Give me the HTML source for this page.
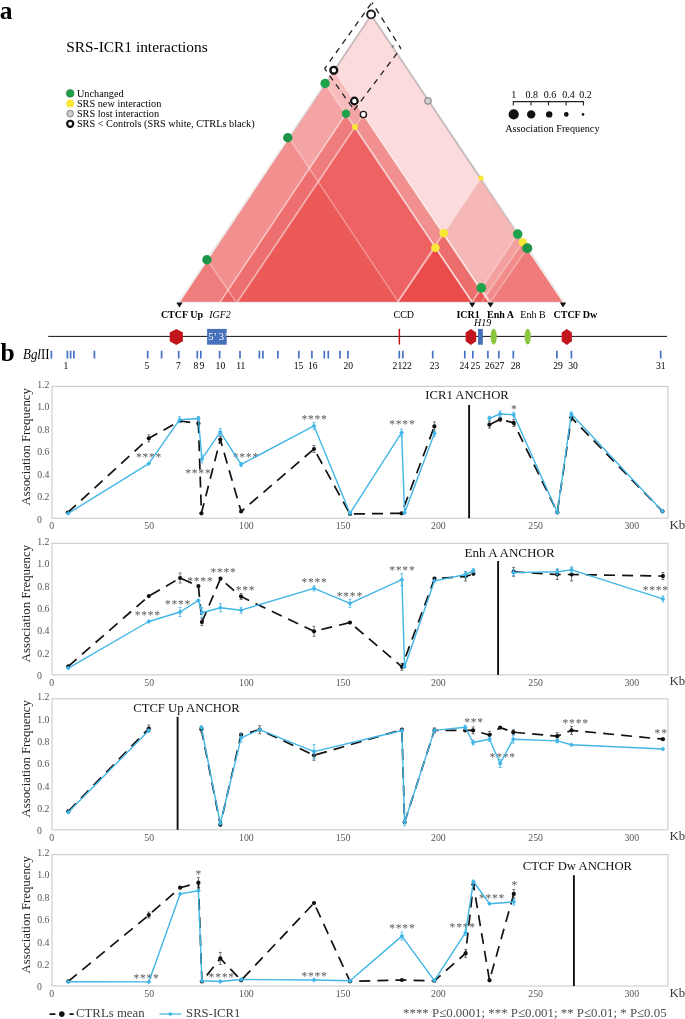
<!DOCTYPE html>
<html><head><meta charset="utf-8"><title>Figure</title>
<style>
html,body{margin:0;padding:0;background:#fff;}
body{width:685px;height:1019px;overflow:hidden;}
svg{display:block;will-change:transform;}
svg text{font-family:"Liberation Serif",serif;}
</style></head><body>
<svg width="685" height="1019" viewBox="0 0 685 1019">
<rect width="685" height="1019" fill="#fff"/>
<g id="tri">
<path d="M179.5,301.6 L371.25,15 L563,301.6" fill="none" stroke="#adadad" stroke-width="1.7"/>
<path d="M179,302.3 H563.5" fill="none" stroke="#ececec" stroke-width="1.2"/>
<path d="M179.5,301.7 L371.25,15.0 L563.0,301.7 Z" fill="rgb(230,44,40)" fill-opacity="0.17"/>
<path d="M179.5,301.7 L333.8,70.3 L488.8,301.7 Z" fill="rgb(230,44,40)" fill-opacity="0.17"/>
<path d="M179.5,301.7 L325.1,83.5 L471.8,301.7 Z" fill="rgb(230,44,40)" fill-opacity="0.17"/>
<path d="M220.4,301.7 L354.4,101.0 L488.8,301.7 Z" fill="rgb(230,44,40)" fill-opacity="0.17"/>
<path d="M220.4,301.7 L346.0,113.8 L471.8,301.7 Z" fill="rgb(230,44,40)" fill-opacity="0.17"/>
<path d="M237.6,301.7 L363.4,114.5 L488.8,301.7 Z" fill="rgb(230,44,40)" fill-opacity="0.17"/>
<path d="M237.6,301.7 L355.0,127.0 L471.8,301.7 Z" fill="rgb(230,44,40)" fill-opacity="0.17"/>
<path d="M179.5,301.7 L288.7,137.5 L398.0,301.7 Z" fill="rgb(230,44,40)" fill-opacity="0.17"/>
<path d="M179.5,301.7 L207.0,259.8 L236.0,301.7 Z" fill="rgb(230,44,40)" fill-opacity="0.17"/>
<path d="M398.0,301.7 L480.7,178.0 L563.0,301.7 Z" fill="rgb(230,44,40)" fill-opacity="0.2"/>
<path d="M398.0,301.7 L443.5,233.1 L488.8,301.7 Z" fill="rgb(230,44,40)" fill-opacity="0.15"/>
<path d="M398.0,301.7 L435.3,247.6 L471.8,301.7 Z" fill="rgb(230,44,40)" fill-opacity="0.1"/>
<path d="M472.6,301.7 L517.7,234.1 L563.0,301.7 Z" fill="rgb(230,44,40)" fill-opacity="0.17"/>
<path d="M482.0,301.7 L522.8,242.3 L563.0,301.7 Z" fill="rgb(230,44,40)" fill-opacity="0.17"/>
<path d="M490.7,301.7 L527.3,248.2 L563.0,301.7 Z" fill="rgb(230,44,40)" fill-opacity="0.17"/>
<path d="M472.4,301.7 L481.3,287.9 L490.3,301.7 Z" fill="rgb(230,44,40)" fill-opacity="0.17"/>
<path d="M179.5,301.7 L371.25,15.0 L563.0,301.7" fill="none" stroke="#fff" stroke-opacity="0.32" stroke-width="1.5" stroke-linejoin="round"/>
<path d="M179.5,301.7 L333.8,70.3 L488.8,301.7" fill="none" stroke="#fff" stroke-opacity="0.32" stroke-width="1.5" stroke-linejoin="round"/>
<path d="M179.5,301.7 L325.1,83.5 L471.8,301.7" fill="none" stroke="#fff" stroke-opacity="0.32" stroke-width="1.5" stroke-linejoin="round"/>
<path d="M220.4,301.7 L354.4,101.0 L488.8,301.7" fill="none" stroke="#fff" stroke-opacity="0.32" stroke-width="1.5" stroke-linejoin="round"/>
<path d="M220.4,301.7 L346.0,113.8 L471.8,301.7" fill="none" stroke="#fff" stroke-opacity="0.32" stroke-width="1.5" stroke-linejoin="round"/>
<path d="M237.6,301.7 L363.4,114.5 L488.8,301.7" fill="none" stroke="#fff" stroke-opacity="0.32" stroke-width="1.5" stroke-linejoin="round"/>
<path d="M237.6,301.7 L355.0,127.0 L471.8,301.7" fill="none" stroke="#fff" stroke-opacity="0.32" stroke-width="1.5" stroke-linejoin="round"/>
<path d="M179.5,301.7 L288.7,137.5 L398.0,301.7" fill="none" stroke="#fff" stroke-opacity="0.32" stroke-width="1.5" stroke-linejoin="round"/>
<path d="M179.5,301.7 L207.0,259.8 L236.0,301.7" fill="none" stroke="#fff" stroke-opacity="0.32" stroke-width="1.5" stroke-linejoin="round"/>
<path d="M398.0,301.7 L480.7,178.0 L563.0,301.7" fill="none" stroke="#fff" stroke-opacity="0.32" stroke-width="1.5" stroke-linejoin="round"/>
<path d="M398.0,301.7 L443.5,233.1 L488.8,301.7" fill="none" stroke="#fff" stroke-opacity="0.32" stroke-width="1.5" stroke-linejoin="round"/>
<path d="M398.0,301.7 L435.3,247.6 L471.8,301.7" fill="none" stroke="#fff" stroke-opacity="0.32" stroke-width="1.5" stroke-linejoin="round"/>
<path d="M472.6,301.7 L517.7,234.1 L563.0,301.7" fill="none" stroke="#fff" stroke-opacity="0.32" stroke-width="1.5" stroke-linejoin="round"/>
<path d="M482.0,301.7 L522.8,242.3 L563.0,301.7" fill="none" stroke="#fff" stroke-opacity="0.32" stroke-width="1.5" stroke-linejoin="round"/>
<path d="M490.7,301.7 L527.3,248.2 L563.0,301.7" fill="none" stroke="#fff" stroke-opacity="0.32" stroke-width="1.5" stroke-linejoin="round"/>
<path d="M472.4,301.7 L481.3,287.9 L490.3,301.7" fill="none" stroke="#fff" stroke-opacity="0.32" stroke-width="1.5" stroke-linejoin="round"/>
</g>
<path d="M324.6,68.6 L372,2.5 M400.8,48.3 L372,2.5 M324.6,68.6 L354.2,110" fill="none" stroke="#222" stroke-width="1.3" stroke-dasharray="5.8 5.1" stroke-dashoffset="2.3"/>
<path d="M354.2,110 L400.8,48.3" fill="none" stroke="#222" stroke-width="1.3" stroke-dasharray="5.8 5.1"/>
<circle cx="428" cy="100.9" r="3.4" fill="#cfcfcf" stroke="#555" stroke-width="0.7"/>
<circle cx="392.8" cy="46.4" r="1.0" fill="#aaa" stroke="#666" stroke-width="0.6"/>
<circle cx="355" cy="127" r="2.9" fill="#f8e733"/>
<circle cx="481" cy="178" r="2.6" fill="#f8e733"/>
<circle cx="443.7" cy="233.1" r="4.4" fill="#f8e733"/>
<circle cx="435.4" cy="247.8" r="4.3" fill="#f8e733"/>
<circle cx="522.8" cy="242.3" r="4.0" fill="#f8e733"/>
<circle cx="325.1" cy="83.5" r="4.7" fill="#1fa24c"/>
<circle cx="346" cy="113.8" r="4.2" fill="#1fa24c"/>
<circle cx="287.8" cy="137.7" r="4.7" fill="#1e9447"/>
<circle cx="206.9" cy="259.8" r="4.7" fill="#1e9447"/>
<circle cx="517.7" cy="234.1" r="4.8" fill="#1fa24c"/>
<circle cx="527.3" cy="248.2" r="5.0" fill="#1e9447"/>
<circle cx="481.3" cy="287.9" r="4.8" fill="#1fa24c"/>
<circle cx="371.1" cy="14.4" r="3.95" fill="#fff" stroke="#1a1a1a" stroke-width="1.9"/>
<circle cx="333.8" cy="70.3" r="3.4" fill="#fff" stroke="#111" stroke-width="2.4"/>
<circle cx="354.4" cy="101" r="3.3" fill="#fff" stroke="#111" stroke-width="2.2"/>
<circle cx="363.4" cy="114.5" r="3.1" fill="#fff" stroke="#1a1a1a" stroke-width="1.4"/>
<text x="66.2" y="51.9" font-size="15.4">SRS-ICR1 interactions</text>
<circle cx="70.2" cy="93.4" r="3.8" fill="#1fa24c" stroke="#2f7f45" stroke-width="0.8"/>
<circle cx="70.2" cy="103.4" r="3.9" fill="#f8e733"/>
<circle cx="70.2" cy="113.6" r="3.3" fill="#cfcfcf" stroke="#555" stroke-width="0.7"/>
<circle cx="70.2" cy="123.8" r="3.05" fill="#fff" stroke="#111" stroke-width="2.2"/>
<text x="76.9" y="96.6" font-size="10.27">Unchanged</text>
<text x="76.9" y="106.7" font-size="10.27">SRS new interaction</text>
<text x="76.9" y="116.8" font-size="10.27">SRS lost interaction</text>
<text x="76.9" y="126.9" font-size="10.27">SRS &lt; Controls (SRS white, CTRLs black)</text>
<text x="513.7" y="98" font-size="10" text-anchor="middle">1</text>
<text x="531.7" y="98" font-size="10" text-anchor="middle">0.8</text>
<text x="549.9" y="98" font-size="10" text-anchor="middle">0.6</text>
<text x="568.5" y="98" font-size="10" text-anchor="middle">0.4</text>
<text x="585.6" y="98" font-size="10" text-anchor="middle">0.2</text>
<path d="M513.3,105.6 V101.6 H583.4 V105.6 M531,101.6 V105.6 M548.5,101.6 V105.6 M566.1,101.6 V105.6" fill="none" stroke="#222" stroke-width="1.1"/>
<circle cx="513.7" cy="114.4" r="5.1" fill="#111"/>
<circle cx="531.2" cy="114.4" r="4.2" fill="#111"/>
<circle cx="549.2" cy="114.4" r="3.2" fill="#111"/>
<circle cx="566.3" cy="114.4" r="2.3" fill="#111"/>
<circle cx="583" cy="114.4" r="1.3" fill="#111"/>
<text x="505.2" y="131.5" font-size="10.28">Association Frequency</text>
<text x="-0.3" y="18.6" font-size="25.5" font-weight="bold">a</text>
<text x="0.4" y="360.5" font-size="25.5" font-weight="bold">b</text>
<path d="M176.3,302.6 H182.7 L179.5,307.6 Z" fill="#111"/>
<path d="M469.0,302.6 H475.4 L472.2,307.6 Z" fill="#111"/>
<path d="M487.3,302.6 H493.7 L490.5,307.6 Z" fill="#111"/>
<path d="M559.8,302.6 H566.2 L563,307.6 Z" fill="#111"/>
<text x="160.9" y="317.8" font-size="10" font-weight="bold">CTCF Up</text>
<text x="209.2" y="317.8" font-size="10" font-style="italic">IGF2</text>
<text x="393.5" y="317.8" font-size="10">CCD</text>
<text x="456.4" y="317.8" font-size="10" font-weight="bold">ICR1</text>
<text x="487" y="317.8" font-size="10" font-weight="bold">Enh A</text>
<text x="520.3" y="317.8" font-size="10">Enh B</text>
<text x="553.5" y="317.8" font-size="10" font-weight="bold">CTCF Dw</text>
<text x="474" y="325.8" font-size="10" font-style="italic">H19</text>
<path d="M48.2,336.4 H667" stroke="#111" stroke-width="1.0" fill="none"/>
<path d="M176.3,328.9 L182.9,332.4 V341.2 L176.3,345 L169.70000000000002,341.2 V332.4 Z" fill="#c1161c"/>
<path d="M470.9,328.9 L476.2,332.4 V341.2 L470.9,345 L465.59999999999997,341.2 V332.4 Z" fill="#c1161c"/>
<path d="M566.8,328.9 L571.9,332.4 V341.2 L566.8,345 L561.6999999999999,341.2 V332.4 Z" fill="#c1161c"/>
<rect x="207.1" y="328.9" width="19.6" height="15.8" fill="#4670b9"/>
<text x="208.2" y="340.2" font-size="10.6" fill="#fff">5&#8217; 3&#8217;</text>
<rect x="398.6" y="328.8" width="1.5" height="15.8" fill="#c1161c"/>
<rect x="478" y="328.9" width="4.8" height="15.8" fill="#4670b9"/>
<ellipse cx="493.7" cy="336.7" rx="3.1" ry="7.9" fill="#8cc63f"/>
<ellipse cx="527.7" cy="336.7" rx="3.1" ry="7.9" fill="#8cc63f"/>
<text x="23" y="359.4" font-size="13.6" textLength="26.6" lengthAdjust="spacingAndGlyphs"><tspan font-style="italic">Bgl</tspan>II</text>
<path d="M51.4,350.7 V358.6 M67.4,350.7 V358.6 M70.6,350.7 V358.6 M73.9,350.7 V358.6 M94.4,350.7 V358.6 M147.7,350.7 V358.6 M161.6,350.7 V358.6 M178.7,350.7 V358.6 M197.3,350.7 V358.6 M200.8,350.7 V358.6 M219.6,350.7 V358.6 M240,350.7 V358.6 M259.4,350.7 V358.6 M262.9,350.7 V358.6 M277.9,350.7 V358.6 M298.8,350.7 V358.6 M311.9,350.7 V358.6 M324.3,350.7 V358.6 M328.3,350.7 V358.6 M340,350.7 V358.6 M347.9,350.7 V358.6 M399.3,350.7 V358.6 M402.8,350.7 V358.6 M432.7,350.7 V358.6 M464.8,350.7 V358.6 M472.8,350.7 V358.6 M487.9,350.7 V358.6 M498.8,350.7 V358.6 M513.3,350.7 V358.6 M556.9,350.7 V358.6 M571.4,350.7 V358.6 M660.7,350.7 V358.6 " stroke="#4472c4" stroke-width="1.7" fill="none"/>
<text x="65.8" y="368.6" font-size="9.6" text-anchor="middle">1</text>
<text x="147" y="368.6" font-size="9.6" text-anchor="middle">5</text>
<text x="178.4" y="368.6" font-size="9.6" text-anchor="middle">7</text>
<text x="195.9" y="368.6" font-size="9.6" text-anchor="middle">8</text>
<text x="202" y="368.6" font-size="9.6" text-anchor="middle">9</text>
<text x="220.4" y="368.6" font-size="9.6" text-anchor="middle">10</text>
<text x="240.8" y="368.6" font-size="9.6" text-anchor="middle">11</text>
<text x="298.6" y="368.6" font-size="9.6" text-anchor="middle">15</text>
<text x="312.8" y="368.6" font-size="9.6" text-anchor="middle">16</text>
<text x="348.3" y="368.6" font-size="9.6" text-anchor="middle">20</text>
<text x="397.4" y="368.6" font-size="9.6" text-anchor="middle">21</text>
<text x="407" y="368.6" font-size="9.6" text-anchor="middle">22</text>
<text x="434.6" y="368.6" font-size="9.6" text-anchor="middle">23</text>
<text x="464.2" y="368.6" font-size="9.6" text-anchor="middle">24</text>
<text x="475.4" y="368.6" font-size="9.6" text-anchor="middle">25</text>
<text x="489.8" y="368.6" font-size="9.6" text-anchor="middle">26</text>
<text x="499.5" y="368.6" font-size="9.6" text-anchor="middle">27</text>
<text x="515.5" y="368.6" font-size="9.6" text-anchor="middle">28</text>
<text x="558" y="368.6" font-size="9.6" text-anchor="middle">29</text>
<text x="573" y="368.6" font-size="9.6" text-anchor="middle">30</text>
<text x="660.7" y="368.6" font-size="9.6" text-anchor="middle">31</text>
<g id="chart0">
<rect x="52.0" y="386.4" width="615.9" height="131.8" fill="#fff" stroke="#cacaca" stroke-width="1.1"/>
<text x="42.0" y="522.5" font-size="9.8" text-anchor="end" fill="#555">0</text>
<text x="49.4" y="500.1" font-size="9.8" text-anchor="end" fill="#555">0.2</text>
<text x="49.4" y="477.6" font-size="9.8" text-anchor="end" fill="#555">0.4</text>
<text x="49.4" y="455.2" font-size="9.8" text-anchor="end" fill="#555">0.6</text>
<text x="49.4" y="432.7" font-size="9.8" text-anchor="end" fill="#555">0.8</text>
<text x="49.4" y="410.2" font-size="9.8" text-anchor="end" fill="#555">1.0</text>
<text x="49.4" y="387.8" font-size="9.8" text-anchor="end" fill="#555">1.2</text>
<text x="51.8" y="529.0" font-size="9.8" text-anchor="middle" fill="#555">0</text>
<text x="149.2" y="529.0" font-size="9.8" text-anchor="middle" fill="#555">50</text>
<text x="246.4" y="529.0" font-size="9.8" text-anchor="middle" fill="#555">100</text>
<text x="343" y="529.0" font-size="9.8" text-anchor="middle" fill="#555">150</text>
<text x="438.4" y="529.0" font-size="9.8" text-anchor="middle" fill="#555">200</text>
<text x="535.6" y="529.0" font-size="9.8" text-anchor="middle" fill="#555">250</text>
<text x="631.8" y="529.0" font-size="9.8" text-anchor="middle" fill="#555">300</text>
<text x="669.4" y="528.7" font-size="12.8" fill="#3a3a3a">Kb</text>
<text transform="translate(30.2,446.8) rotate(-90)" font-size="12.75" text-anchor="middle" fill="#222">Association Frequency</text>
<text x="425.3" y="398.8" font-size="12.7" fill="#111">ICR1 ANCHOR</text>
<path d="M469.1,405 V518.2" stroke="#111" stroke-width="1.9" fill="none"/>
<text x="135.97" y="461.2" font-size="11.6" fill="#5a5a5a" letter-spacing="0.75">****</text>
<text x="185.28" y="476.6" font-size="11.6" fill="#5a5a5a" letter-spacing="0.75">****</text>
<text x="232.78" y="461.2" font-size="11.6" fill="#5a5a5a" letter-spacing="0.75">****</text>
<text x="301.38" y="422.7" font-size="11.6" fill="#5a5a5a" letter-spacing="0.75">****</text>
<text x="389.28" y="428.2" font-size="11.6" fill="#5a5a5a" letter-spacing="0.75">****</text>
<text x="511.10" y="413.0" font-size="11.6" fill="#5a5a5a" letter-spacing="0.75">*</text>
<path d="M67.8,512.5 L148.8,438.3 L180.1,421 L198.4,423.4 L201.4,513.3 L220.3,439.6 L241.1,511.5 L314,449 L350,514 L401.6,513.3 L434.4,426.4" fill="none" stroke="#111" stroke-width="1.7" stroke-dasharray="11 7.1" stroke-linejoin="round"/>
<path d="M489.4,424.7 L500.1,419.3 L513.7,422.9 L557.3,512.3 L571.3,417.6 L662.5,511.3" fill="none" stroke="#111" stroke-width="1.7" stroke-dasharray="11 7.1" stroke-linejoin="round"/>
<path d="M148.8,434.8 V441.8 M147.3,434.8 H150.3 M147.3,441.8 H150.3 M198.4,420.9 V425.9 M196.9,420.9 H199.9 M196.9,425.9 H199.9 M220.3,436.6 V442.6 M218.8,436.6 H221.8 M218.8,442.6 H221.8 M314,445.5 V452.5 M312.5,445.5 H315.5 M312.5,452.5 H315.5 M434.4,421.9 V430.9 M432.9,421.9 H435.9 M432.9,430.9 H435.9 M489.4,421.2 V428.2 M487.9,421.2 H490.9 M487.9,428.2 H490.9 M500.1,417.3 V421.3 M498.6,417.3 H501.6 M498.6,421.3 H501.6 M513.7,419.4 V426.4 M512.2,419.4 H515.2 M512.2,426.4 H515.2 M571.3,415.1 V420.1 M569.8,415.1 H572.8 M569.8,420.1 H572.8 " fill="none" stroke="#222" stroke-width="0.6"/>
<circle cx="67.8" cy="512.5" r="2.1" fill="#111"/>
<circle cx="148.8" cy="438.3" r="2.1" fill="#111"/>
<circle cx="180.1" cy="421" r="2.1" fill="#111"/>
<circle cx="198.4" cy="423.4" r="2.1" fill="#111"/>
<circle cx="201.4" cy="513.3" r="2.1" fill="#111"/>
<circle cx="220.3" cy="439.6" r="2.1" fill="#111"/>
<circle cx="241.1" cy="511.5" r="2.1" fill="#111"/>
<circle cx="314" cy="449" r="2.1" fill="#111"/>
<circle cx="350" cy="514" r="2.1" fill="#111"/>
<circle cx="401.6" cy="513.3" r="2.1" fill="#111"/>
<circle cx="434.4" cy="426.4" r="2.1" fill="#111"/>
<circle cx="489.4" cy="424.7" r="2.1" fill="#111"/>
<circle cx="500.1" cy="419.3" r="2.1" fill="#111"/>
<circle cx="513.7" cy="422.9" r="2.1" fill="#111"/>
<circle cx="557.3" cy="512.3" r="2.1" fill="#111"/>
<circle cx="571.3" cy="417.6" r="2.1" fill="#111"/>
<circle cx="662.5" cy="511.3" r="2.1" fill="#111"/>
<path d="M68.3,513.3 L148.8,463.6 L179.6,419.7 L198.4,418.5 L201.9,458.9 L220.3,432.1 L241.1,464.4 L314,425.9 L350,513.3 L401.6,432.6 L404.6,512.8 L434.4,433.4" fill="none" stroke="#41b6e6" stroke-width="1.4" stroke-linejoin="round"/>
<path d="M489.4,418.3 L500.1,414 L513.7,414.7 L557.3,512.3 L571.3,414 L662.5,511.3" fill="none" stroke="#41b6e6" stroke-width="1.4" stroke-linejoin="round"/>
<path d="M179.6,416.7 V422.7 M178.1,416.7 H181.1 M178.1,422.7 H181.1 M198.4,416.5 V420.5 M196.9,416.5 H199.9 M196.9,420.5 H199.9 M201.9,454.9 V462.9 M200.4,454.9 H203.4 M200.4,462.9 H203.4 M220.3,428.6 V435.6 M218.8,428.6 H221.8 M218.8,435.6 H221.8 M241.1,462.4 V466.4 M239.6,462.4 H242.6 M239.6,466.4 H242.6 M314,422.4 V429.4 M312.5,422.4 H315.5 M312.5,429.4 H315.5 M401.6,429.1 V436.1 M400.1,429.1 H403.1 M400.1,436.1 H403.1 M434.4,430.4 V436.4 M432.9,430.4 H435.9 M432.9,436.4 H435.9 M489.4,416.3 V420.3 M487.9,416.3 H490.9 M487.9,420.3 H490.9 M500.1,411 V417 M498.6,411 H501.6 M498.6,417 H501.6 M513.7,412.2 V417.2 M512.2,412.2 H515.2 M512.2,417.2 H515.2 M571.3,412 V416 M569.8,412 H572.8 M569.8,416 H572.8 " fill="none" stroke="#41b6e6" stroke-width="0.8"/>
<path d="M65.89999999999999,513.3 L68.3,510.9 L70.7,513.3 L68.3,515.6999999999999 Z" fill="#41b6e6"/>
<path d="M146.4,463.6 L148.8,461.20000000000005 L151.20000000000002,463.6 L148.8,466.0 Z" fill="#41b6e6"/>
<path d="M177.2,419.7 L179.6,417.3 L182.0,419.7 L179.6,422.09999999999997 Z" fill="#41b6e6"/>
<path d="M196.0,418.5 L198.4,416.1 L200.8,418.5 L198.4,420.9 Z" fill="#41b6e6"/>
<path d="M199.5,458.9 L201.9,456.5 L204.3,458.9 L201.9,461.29999999999995 Z" fill="#41b6e6"/>
<path d="M217.9,432.1 L220.3,429.70000000000005 L222.70000000000002,432.1 L220.3,434.5 Z" fill="#41b6e6"/>
<path d="M238.7,464.4 L241.1,462.0 L243.5,464.4 L241.1,466.79999999999995 Z" fill="#41b6e6"/>
<path d="M311.6,425.9 L314,423.5 L316.4,425.9 L314,428.29999999999995 Z" fill="#41b6e6"/>
<path d="M347.6,513.3 L350,510.9 L352.4,513.3 L350,515.6999999999999 Z" fill="#41b6e6"/>
<path d="M399.20000000000005,432.6 L401.6,430.20000000000005 L404.0,432.6 L401.6,435.0 Z" fill="#41b6e6"/>
<path d="M402.20000000000005,512.8 L404.6,510.4 L407.0,512.8 L404.6,515.1999999999999 Z" fill="#41b6e6"/>
<path d="M432.0,433.4 L434.4,431.0 L436.79999999999995,433.4 L434.4,435.79999999999995 Z" fill="#41b6e6"/>
<path d="M487.0,418.3 L489.4,415.90000000000003 L491.79999999999995,418.3 L489.4,420.7 Z" fill="#41b6e6"/>
<path d="M497.70000000000005,414 L500.1,411.6 L502.5,414 L500.1,416.4 Z" fill="#41b6e6"/>
<path d="M511.30000000000007,414.7 L513.7,412.3 L516.1,414.7 L513.7,417.09999999999997 Z" fill="#41b6e6"/>
<path d="M554.9,512.3 L557.3,509.9 L559.6999999999999,512.3 L557.3,514.6999999999999 Z" fill="#41b6e6"/>
<path d="M568.9,414 L571.3,411.6 L573.6999999999999,414 L571.3,416.4 Z" fill="#41b6e6"/>
<path d="M660.1,511.3 L662.5,508.90000000000003 L664.9,511.3 L662.5,513.7 Z" fill="#41b6e6"/>
</g>
<g id="chart1">
<rect x="52.0" y="543.3" width="615.9" height="131.6" fill="#fff" stroke="#cacaca" stroke-width="1.1"/>
<text x="42.0" y="679.2" font-size="9.8" text-anchor="end" fill="#555">0</text>
<text x="49.4" y="656.8" font-size="9.8" text-anchor="end" fill="#555">0.2</text>
<text x="49.4" y="634.4" font-size="9.8" text-anchor="end" fill="#555">0.4</text>
<text x="49.4" y="611.9" font-size="9.8" text-anchor="end" fill="#555">0.6</text>
<text x="49.4" y="589.5" font-size="9.8" text-anchor="end" fill="#555">0.8</text>
<text x="49.4" y="567.1" font-size="9.8" text-anchor="end" fill="#555">1.0</text>
<text x="49.4" y="544.7" font-size="9.8" text-anchor="end" fill="#555">1.2</text>
<text x="51.8" y="685.7" font-size="9.8" text-anchor="middle" fill="#555">0</text>
<text x="149.2" y="685.7" font-size="9.8" text-anchor="middle" fill="#555">50</text>
<text x="246.4" y="685.7" font-size="9.8" text-anchor="middle" fill="#555">100</text>
<text x="343" y="685.7" font-size="9.8" text-anchor="middle" fill="#555">150</text>
<text x="438.4" y="685.7" font-size="9.8" text-anchor="middle" fill="#555">200</text>
<text x="535.6" y="685.7" font-size="9.8" text-anchor="middle" fill="#555">250</text>
<text x="631.8" y="685.7" font-size="9.8" text-anchor="middle" fill="#555">300</text>
<text x="669.4" y="685.4" font-size="12.8" fill="#3a3a3a">Kb</text>
<text transform="translate(30.2,603.6) rotate(-90)" font-size="12.75" text-anchor="middle" fill="#222">Association Frequency</text>
<text x="464.5" y="557" font-size="13.1" fill="#111">Enh A ANCHOR</text>
<path d="M498.1,561 V674.9" stroke="#111" stroke-width="1.9" fill="none"/>
<text x="134.68" y="618.9" font-size="11.6" fill="#5a5a5a" letter-spacing="0.75">****</text>
<text x="164.97" y="607.5" font-size="11.6" fill="#5a5a5a" letter-spacing="0.75">****</text>
<text x="187.28" y="584.7" font-size="11.6" fill="#5a5a5a" letter-spacing="0.75">****</text>
<text x="210.38" y="576.0" font-size="11.6" fill="#5a5a5a" letter-spacing="0.75">****</text>
<text x="235.65" y="593.9" font-size="11.6" fill="#5a5a5a" letter-spacing="0.75">***</text>
<text x="301.38" y="585.9" font-size="11.6" fill="#5a5a5a" letter-spacing="0.75">****</text>
<text x="336.78" y="599.6" font-size="11.6" fill="#5a5a5a" letter-spacing="0.75">****</text>
<text x="389.28" y="574.3" font-size="11.6" fill="#5a5a5a" letter-spacing="0.75">****</text>
<text x="642.67" y="594.0" font-size="11.6" fill="#5a5a5a" letter-spacing="0.75">****</text>
<path d="M68.3,666.3 L148.8,596.1 L180.1,578 L198.4,586.1 L201.9,622.1 L220.5,578.7 L241.1,596.6 L314,631.3 L350,622.6 L401.9,666.8 L434.5,578.7 L465.6,576.5 L473.4,573.8" fill="none" stroke="#111" stroke-width="1.7" stroke-dasharray="11 7.1" stroke-linejoin="round"/>
<path d="M513.6,571.8 L557.3,574.5 L571.6,574.5 L662.9,576.1" fill="none" stroke="#111" stroke-width="1.7" stroke-dasharray="11 7.1" stroke-linejoin="round"/>
<path d="M180.1,573 V583 M178.6,573 H181.6 M178.6,583 H181.6 M201.9,618.6 V625.6 M200.4,618.6 H203.4 M200.4,625.6 H203.4 M241.1,593.6 V599.6 M239.6,593.6 H242.6 M239.6,599.6 H242.6 M314,626.3 V636.3 M312.5,626.3 H315.5 M312.5,636.3 H315.5 M401.9,663.3 V670.3 M400.4,663.3 H403.4 M400.4,670.3 H403.4 M465.6,572.0 V581.0 M464.1,572.0 H467.1 M464.1,581.0 H467.1 M513.6,567.3 V576.3 M512.1,567.3 H515.1 M512.1,576.3 H515.1 M557.3,569.5 V579.5 M555.8,569.5 H558.8 M555.8,579.5 H558.8 M571.6,568.0 V581.0 M570.1,568.0 H573.1 M570.1,581.0 H573.1 M662.9,572.6 V579.6 M661.4,572.6 H664.4 M661.4,579.6 H664.4 " fill="none" stroke="#222" stroke-width="0.6"/>
<circle cx="68.3" cy="666.3" r="2.1" fill="#111"/>
<circle cx="148.8" cy="596.1" r="2.1" fill="#111"/>
<circle cx="180.1" cy="578" r="2.1" fill="#111"/>
<circle cx="198.4" cy="586.1" r="2.1" fill="#111"/>
<circle cx="201.9" cy="622.1" r="2.1" fill="#111"/>
<circle cx="220.5" cy="578.7" r="2.1" fill="#111"/>
<circle cx="241.1" cy="596.6" r="2.1" fill="#111"/>
<circle cx="314" cy="631.3" r="2.1" fill="#111"/>
<circle cx="350" cy="622.6" r="2.1" fill="#111"/>
<circle cx="401.9" cy="666.8" r="2.1" fill="#111"/>
<circle cx="434.5" cy="578.7" r="2.1" fill="#111"/>
<circle cx="465.6" cy="576.5" r="2.1" fill="#111"/>
<circle cx="473.4" cy="573.8" r="2.1" fill="#111"/>
<circle cx="513.6" cy="571.8" r="2.1" fill="#111"/>
<circle cx="557.3" cy="574.5" r="2.1" fill="#111"/>
<circle cx="571.6" cy="574.5" r="2.1" fill="#111"/>
<circle cx="662.9" cy="576.1" r="2.1" fill="#111"/>
<path d="M68.3,668.1 L148.8,621.5 L180.1,612 L198.4,600.3 L201.9,612.7 L220.5,607.7 L241.1,610.2 L314,588.4 L350,603.3 L401.9,579.7 L404.6,666.8 L434.5,580.9 L465.6,574.5 L473.4,570.7" fill="none" stroke="#41b6e6" stroke-width="1.4" stroke-linejoin="round"/>
<path d="M513.6,572.6 L557.3,571.8 L571.6,569.9 L662.9,598.9" fill="none" stroke="#41b6e6" stroke-width="1.4" stroke-linejoin="round"/>
<path d="M180.1,607.5 V616.5 M178.6,607.5 H181.6 M178.6,616.5 H181.6 M201.9,607.7 V617.7 M200.4,607.7 H203.4 M200.4,617.7 H203.4 M220.5,603.7 V611.7 M219.0,603.7 H222.0 M219.0,611.7 H222.0 M241.1,607.2 V613.2 M239.6,607.2 H242.6 M239.6,613.2 H242.6 M314,585.9 V590.9 M312.5,585.9 H315.5 M312.5,590.9 H315.5 M350,599.3 V607.3 M348.5,599.3 H351.5 M348.5,607.3 H351.5 M401.9,573.7 V585.7 M400.4,573.7 H403.4 M400.4,585.7 H403.4 M465.6,571.5 V577.5 M464.1,571.5 H467.1 M464.1,577.5 H467.1 M473.4,568.7 V572.7 M471.9,568.7 H474.9 M471.9,572.7 H474.9 M513.6,569.6 V575.6 M512.1,569.6 H515.1 M512.1,575.6 H515.1 M557.3,568.8 V574.8 M555.8,568.8 H558.8 M555.8,574.8 H558.8 M571.6,566.9 V572.9 M570.1,566.9 H573.1 M570.1,572.9 H573.1 M662.9,595.9 V601.9 M661.4,595.9 H664.4 M661.4,601.9 H664.4 " fill="none" stroke="#41b6e6" stroke-width="0.8"/>
<path d="M65.89999999999999,668.1 L68.3,665.7 L70.7,668.1 L68.3,670.5 Z" fill="#41b6e6"/>
<path d="M146.4,621.5 L148.8,619.1 L151.20000000000002,621.5 L148.8,623.9 Z" fill="#41b6e6"/>
<path d="M177.7,612 L180.1,609.6 L182.5,612 L180.1,614.4 Z" fill="#41b6e6"/>
<path d="M196.0,600.3 L198.4,597.9 L200.8,600.3 L198.4,602.6999999999999 Z" fill="#41b6e6"/>
<path d="M199.5,612.7 L201.9,610.3000000000001 L204.3,612.7 L201.9,615.1 Z" fill="#41b6e6"/>
<path d="M218.1,607.7 L220.5,605.3000000000001 L222.9,607.7 L220.5,610.1 Z" fill="#41b6e6"/>
<path d="M238.7,610.2 L241.1,607.8000000000001 L243.5,610.2 L241.1,612.6 Z" fill="#41b6e6"/>
<path d="M311.6,588.4 L314,586.0 L316.4,588.4 L314,590.8 Z" fill="#41b6e6"/>
<path d="M347.6,603.3 L350,600.9 L352.4,603.3 L350,605.6999999999999 Z" fill="#41b6e6"/>
<path d="M399.5,579.7 L401.9,577.3000000000001 L404.29999999999995,579.7 L401.9,582.1 Z" fill="#41b6e6"/>
<path d="M402.20000000000005,666.8 L404.6,664.4 L407.0,666.8 L404.6,669.1999999999999 Z" fill="#41b6e6"/>
<path d="M432.1,580.9 L434.5,578.5 L436.9,580.9 L434.5,583.3 Z" fill="#41b6e6"/>
<path d="M463.20000000000005,574.5 L465.6,572.1 L468.0,574.5 L465.6,576.9 Z" fill="#41b6e6"/>
<path d="M471.0,570.7 L473.4,568.3000000000001 L475.79999999999995,570.7 L473.4,573.1 Z" fill="#41b6e6"/>
<path d="M511.20000000000005,572.6 L513.6,570.2 L516.0,572.6 L513.6,575.0 Z" fill="#41b6e6"/>
<path d="M554.9,571.8 L557.3,569.4 L559.6999999999999,571.8 L557.3,574.1999999999999 Z" fill="#41b6e6"/>
<path d="M569.2,569.9 L571.6,567.5 L574.0,569.9 L571.6,572.3 Z" fill="#41b6e6"/>
<path d="M660.5,598.9 L662.9,596.5 L665.3,598.9 L662.9,601.3 Z" fill="#41b6e6"/>
</g>
<g id="chart2">
<rect x="52.0" y="698.8" width="615.9" height="131.0" fill="#fff" stroke="#cacaca" stroke-width="1.1"/>
<text x="42.0" y="834.1" font-size="9.8" text-anchor="end" fill="#555">0</text>
<text x="49.4" y="811.8" font-size="9.8" text-anchor="end" fill="#555">0.2</text>
<text x="49.4" y="789.5" font-size="9.8" text-anchor="end" fill="#555">0.4</text>
<text x="49.4" y="767.1" font-size="9.8" text-anchor="end" fill="#555">0.6</text>
<text x="49.4" y="744.8" font-size="9.8" text-anchor="end" fill="#555">0.8</text>
<text x="49.4" y="722.5" font-size="9.8" text-anchor="end" fill="#555">1.0</text>
<text x="49.4" y="700.2" font-size="9.8" text-anchor="end" fill="#555">1.2</text>
<text x="51.8" y="840.6" font-size="9.8" text-anchor="middle" fill="#555">0</text>
<text x="149.2" y="840.6" font-size="9.8" text-anchor="middle" fill="#555">50</text>
<text x="246.4" y="840.6" font-size="9.8" text-anchor="middle" fill="#555">100</text>
<text x="343" y="840.6" font-size="9.8" text-anchor="middle" fill="#555">150</text>
<text x="438.4" y="840.6" font-size="9.8" text-anchor="middle" fill="#555">200</text>
<text x="535.6" y="840.6" font-size="9.8" text-anchor="middle" fill="#555">250</text>
<text x="631.8" y="840.6" font-size="9.8" text-anchor="middle" fill="#555">300</text>
<text x="669.4" y="840.3" font-size="12.8" fill="#3a3a3a">Kb</text>
<text transform="translate(30.2,758.8) rotate(-90)" font-size="12.75" text-anchor="middle" fill="#222">Association Frequency</text>
<text x="133.2" y="711.9" font-size="12.7" fill="#111">CTCF Up ANCHOR</text>
<path d="M177.6,716.8 V829.8" stroke="#111" stroke-width="1.9" fill="none"/>
<text x="464.25" y="726.1" font-size="11.6" fill="#5a5a5a" letter-spacing="0.75">***</text>
<text x="489.58" y="760.9" font-size="11.6" fill="#5a5a5a" letter-spacing="0.75">****</text>
<text x="562.57" y="727.3" font-size="11.6" fill="#5a5a5a" letter-spacing="0.75">****</text>
<text x="654.62" y="737.0" font-size="11.6" fill="#5a5a5a" letter-spacing="0.75">**</text>
<path d="M68.3,811.3 L148.8,728.5" fill="none" stroke="#111" stroke-width="1.7" stroke-dasharray="11 7.1" stroke-linejoin="round"/>
<path d="M201.4,729.2 L220.3,824.8 L241.1,734.7 L259.7,729.7 L314,755.3 L401.9,729.7 L404.6,822.3 L434.4,730.4 L465.2,730.4 L473.1,730.4 L489.5,735 L500.2,727.6 L513.3,732.2 L557.2,736.2 L571.5,730.4 L662.9,739.2" fill="none" stroke="#111" stroke-width="1.7" stroke-dasharray="11 7.1" stroke-linejoin="round"/>
<path d="M148.8,725.0 V732.0 M147.3,725.0 H150.3 M147.3,732.0 H150.3 M201.4,726.2 V732.2 M199.9,726.2 H202.9 M199.9,732.2 H202.9 M259.7,725.7 V733.7 M258.2,725.7 H261.2 M258.2,733.7 H261.2 M314,750.3 V760.3 M312.5,750.3 H315.5 M312.5,760.3 H315.5 M434.4,727.9 V732.9 M432.9,727.9 H435.9 M432.9,732.9 H435.9 M473.1,726.9 V733.9 M471.6,726.9 H474.6 M471.6,733.9 H474.6 M489.5,731.5 V738.5 M488.0,731.5 H491.0 M488.0,738.5 H491.0 M513.3,729.7 V734.7 M511.79999999999995,729.7 H514.8 M511.79999999999995,734.7 H514.8 M557.2,732.7 V739.7 M555.7,732.7 H558.7 M555.7,739.7 H558.7 M571.5,726.4 V734.4 M570.0,726.4 H573.0 M570.0,734.4 H573.0 " fill="none" stroke="#222" stroke-width="0.6"/>
<circle cx="68.3" cy="811.3" r="2.1" fill="#111"/>
<circle cx="148.8" cy="728.5" r="2.1" fill="#111"/>
<circle cx="201.4" cy="729.2" r="2.1" fill="#111"/>
<circle cx="220.3" cy="824.8" r="2.1" fill="#111"/>
<circle cx="241.1" cy="734.7" r="2.1" fill="#111"/>
<circle cx="259.7" cy="729.7" r="2.1" fill="#111"/>
<circle cx="314" cy="755.3" r="2.1" fill="#111"/>
<circle cx="401.9" cy="729.7" r="2.1" fill="#111"/>
<circle cx="404.6" cy="822.3" r="2.1" fill="#111"/>
<circle cx="434.4" cy="730.4" r="2.1" fill="#111"/>
<circle cx="465.2" cy="730.4" r="2.1" fill="#111"/>
<circle cx="473.1" cy="730.4" r="2.1" fill="#111"/>
<circle cx="489.5" cy="735" r="2.1" fill="#111"/>
<circle cx="500.2" cy="727.6" r="2.1" fill="#111"/>
<circle cx="513.3" cy="732.2" r="2.1" fill="#111"/>
<circle cx="557.2" cy="736.2" r="2.1" fill="#111"/>
<circle cx="571.5" cy="730.4" r="2.1" fill="#111"/>
<circle cx="662.9" cy="739.2" r="2.1" fill="#111"/>
<path d="M68.3,812.3 L148.8,730.5" fill="none" stroke="#41b6e6" stroke-width="1.4" stroke-linejoin="round"/>
<path d="M201.4,727.5 L220.3,823.5 L241.1,737.9 L259.7,729.7 L314,751.6 L401.9,730.5 L404.6,822.3 L434.4,730.4 L465.2,727.3 L473.1,742.5 L489.5,739.2 L500.2,763.5 L513.3,739.2 L557.2,740.9 L571.5,744.8 L662.9,749" fill="none" stroke="#41b6e6" stroke-width="1.4" stroke-linejoin="round"/>
<path d="M241.1,733.9 V741.9 M239.6,733.9 H242.6 M239.6,741.9 H242.6 M314,744.6 V758.6 M312.5,744.6 H315.5 M312.5,758.6 H315.5 M404.6,818.8 V825.8 M403.1,818.8 H406.1 M403.1,825.8 H406.1 M465.2,725.3 V729.3 M463.7,725.3 H466.7 M463.7,729.3 H466.7 M473.1,740.0 V745.0 M471.6,740.0 H474.6 M471.6,745.0 H474.6 M489.5,737.2 V741.2 M488.0,737.2 H491.0 M488.0,741.2 H491.0 M500.2,759.5 V767.5 M498.7,759.5 H501.7 M498.7,767.5 H501.7 M513.3,735.2 V743.2 M511.79999999999995,735.2 H514.8 M511.79999999999995,743.2 H514.8 M557.2,738.9 V742.9 M555.7,738.9 H558.7 M555.7,742.9 H558.7 " fill="none" stroke="#41b6e6" stroke-width="0.8"/>
<path d="M65.89999999999999,812.3 L68.3,809.9 L70.7,812.3 L68.3,814.6999999999999 Z" fill="#41b6e6"/>
<path d="M146.4,730.5 L148.8,728.1 L151.20000000000002,730.5 L148.8,732.9 Z" fill="#41b6e6"/>
<path d="M199.0,727.5 L201.4,725.1 L203.8,727.5 L201.4,729.9 Z" fill="#41b6e6"/>
<path d="M217.9,823.5 L220.3,821.1 L222.70000000000002,823.5 L220.3,825.9 Z" fill="#41b6e6"/>
<path d="M238.7,737.9 L241.1,735.5 L243.5,737.9 L241.1,740.3 Z" fill="#41b6e6"/>
<path d="M257.3,729.7 L259.7,727.3000000000001 L262.09999999999997,729.7 L259.7,732.1 Z" fill="#41b6e6"/>
<path d="M311.6,751.6 L314,749.2 L316.4,751.6 L314,754.0 Z" fill="#41b6e6"/>
<path d="M399.5,730.5 L401.9,728.1 L404.29999999999995,730.5 L401.9,732.9 Z" fill="#41b6e6"/>
<path d="M402.20000000000005,822.3 L404.6,819.9 L407.0,822.3 L404.6,824.6999999999999 Z" fill="#41b6e6"/>
<path d="M432.0,730.4 L434.4,728.0 L436.79999999999995,730.4 L434.4,732.8 Z" fill="#41b6e6"/>
<path d="M462.8,727.3 L465.2,724.9 L467.59999999999997,727.3 L465.2,729.6999999999999 Z" fill="#41b6e6"/>
<path d="M470.70000000000005,742.5 L473.1,740.1 L475.5,742.5 L473.1,744.9 Z" fill="#41b6e6"/>
<path d="M487.1,739.2 L489.5,736.8000000000001 L491.9,739.2 L489.5,741.6 Z" fill="#41b6e6"/>
<path d="M497.8,763.5 L500.2,761.1 L502.59999999999997,763.5 L500.2,765.9 Z" fill="#41b6e6"/>
<path d="M510.9,739.2 L513.3,736.8000000000001 L515.6999999999999,739.2 L513.3,741.6 Z" fill="#41b6e6"/>
<path d="M554.8000000000001,740.9 L557.2,738.5 L559.6,740.9 L557.2,743.3 Z" fill="#41b6e6"/>
<path d="M569.1,744.8 L571.5,742.4 L573.9,744.8 L571.5,747.1999999999999 Z" fill="#41b6e6"/>
<path d="M660.5,749 L662.9,746.6 L665.3,749 L662.9,751.4 Z" fill="#41b6e6"/>
</g>
<g id="chart3">
<rect x="52.0" y="854.6" width="615.9" height="131.4" fill="#fff" stroke="#cacaca" stroke-width="1.1"/>
<text x="42.0" y="990.3" font-size="9.8" text-anchor="end" fill="#555">0</text>
<text x="49.4" y="967.9" font-size="9.8" text-anchor="end" fill="#555">0.2</text>
<text x="49.4" y="945.5" font-size="9.8" text-anchor="end" fill="#555">0.4</text>
<text x="49.4" y="923.1" font-size="9.8" text-anchor="end" fill="#555">0.6</text>
<text x="49.4" y="900.8" font-size="9.8" text-anchor="end" fill="#555">0.8</text>
<text x="49.4" y="878.4" font-size="9.8" text-anchor="end" fill="#555">1.0</text>
<text x="49.4" y="856.0" font-size="9.8" text-anchor="end" fill="#555">1.2</text>
<text x="51.8" y="996.8" font-size="9.8" text-anchor="middle" fill="#555">0</text>
<text x="149.2" y="996.8" font-size="9.8" text-anchor="middle" fill="#555">50</text>
<text x="246.4" y="996.8" font-size="9.8" text-anchor="middle" fill="#555">100</text>
<text x="343" y="996.8" font-size="9.8" text-anchor="middle" fill="#555">150</text>
<text x="438.4" y="996.8" font-size="9.8" text-anchor="middle" fill="#555">200</text>
<text x="535.6" y="996.8" font-size="9.8" text-anchor="middle" fill="#555">250</text>
<text x="631.8" y="996.8" font-size="9.8" text-anchor="middle" fill="#555">300</text>
<text x="669.4" y="996.5" font-size="12.8" fill="#3a3a3a">Kb</text>
<text transform="translate(30.2,914.8) rotate(-90)" font-size="12.75" text-anchor="middle" fill="#222">Association Frequency</text>
<text x="522.8" y="869.6" font-size="12.7" fill="#111">CTCF Dw ANCHOR</text>
<path d="M573.9,875.2 V986.0" stroke="#111" stroke-width="1.9" fill="none"/>
<text x="133.47" y="981.9" font-size="11.6" fill="#5a5a5a" letter-spacing="0.75">****</text>
<text x="195.50" y="877.6" font-size="11.6" fill="#5a5a5a" letter-spacing="0.75">*</text>
<text x="208.58" y="980.8" font-size="11.6" fill="#5a5a5a" letter-spacing="0.75">****</text>
<text x="301.38" y="980.1" font-size="11.6" fill="#5a5a5a" letter-spacing="0.75">****</text>
<text x="389.28" y="931.7" font-size="11.6" fill="#5a5a5a" letter-spacing="0.75">****</text>
<text x="449.58" y="930.9" font-size="11.6" fill="#5a5a5a" letter-spacing="0.75">****</text>
<text x="478.88" y="902.4" font-size="11.6" fill="#5a5a5a" letter-spacing="0.75">****</text>
<text x="511.60" y="888.9" font-size="11.6" fill="#5a5a5a" letter-spacing="0.75">*</text>
<path d="M68.3,981.3 L148.8,915.1 L180.1,887.7 L198.4,882.7 L201.9,981.5 L220.3,958.4 L241.1,980.3 L314,903.1 L350,981.3 L401.9,980 L434.4,980.8 L465.6,953.4 L473.4,884.5 L489.5,980.3 L513.8,893.9" fill="none" stroke="#111" stroke-width="1.7" stroke-dasharray="11 7.1" stroke-linejoin="round"/>
<path d="M148.8,912.1 V918.1 M147.3,912.1 H150.3 M147.3,918.1 H150.3 M198.4,877.7 V887.7 M196.9,877.7 H199.9 M196.9,887.7 H199.9 M220.3,952.4 V964.4 M218.8,952.4 H221.8 M218.8,964.4 H221.8 M465.6,949.4 V957.4 M464.1,949.4 H467.1 M464.1,957.4 H467.1 M513.8,889.4 V898.4 M512.3,889.4 H515.3 M512.3,898.4 H515.3 " fill="none" stroke="#222" stroke-width="0.6"/>
<circle cx="68.3" cy="981.3" r="2.1" fill="#111"/>
<circle cx="148.8" cy="915.1" r="2.1" fill="#111"/>
<circle cx="180.1" cy="887.7" r="2.1" fill="#111"/>
<circle cx="198.4" cy="882.7" r="2.1" fill="#111"/>
<circle cx="201.9" cy="981.5" r="2.1" fill="#111"/>
<circle cx="220.3" cy="958.4" r="2.1" fill="#111"/>
<circle cx="241.1" cy="980.3" r="2.1" fill="#111"/>
<circle cx="314" cy="903.1" r="2.1" fill="#111"/>
<circle cx="350" cy="981.3" r="2.1" fill="#111"/>
<circle cx="401.9" cy="980" r="2.1" fill="#111"/>
<circle cx="434.4" cy="980.8" r="2.1" fill="#111"/>
<circle cx="465.6" cy="953.4" r="2.1" fill="#111"/>
<circle cx="473.4" cy="884.5" r="2.1" fill="#111"/>
<circle cx="489.5" cy="980.3" r="2.1" fill="#111"/>
<circle cx="513.8" cy="893.9" r="2.1" fill="#111"/>
<path d="M68.3,981.8 L148.8,981.9 L180.1,893.9 L198.4,890.7 L201.9,980.8 L220.3,981.5 L241.1,979.5 L314,980 L350,980.8 L401.9,936.1 L434.4,980.6 L465.6,932.4 L473.4,881.5 L489.5,903.7 L513.8,902" fill="none" stroke="#41b6e6" stroke-width="1.4" stroke-linejoin="round"/>
<path d="M401.9,932.1 V940.1 M400.4,932.1 H403.4 M400.4,940.1 H403.4 M465.6,929.4 V935.4 M464.1,929.4 H467.1 M464.1,935.4 H467.1 M513.8,899 V905 M512.3,899 H515.3 M512.3,905 H515.3 " fill="none" stroke="#41b6e6" stroke-width="0.8"/>
<path d="M65.89999999999999,981.8 L68.3,979.4 L70.7,981.8 L68.3,984.1999999999999 Z" fill="#41b6e6"/>
<path d="M146.4,981.9 L148.8,979.5 L151.20000000000002,981.9 L148.8,984.3 Z" fill="#41b6e6"/>
<path d="M177.7,893.9 L180.1,891.5 L182.5,893.9 L180.1,896.3 Z" fill="#41b6e6"/>
<path d="M196.0,890.7 L198.4,888.3000000000001 L200.8,890.7 L198.4,893.1 Z" fill="#41b6e6"/>
<path d="M199.5,980.8 L201.9,978.4 L204.3,980.8 L201.9,983.1999999999999 Z" fill="#41b6e6"/>
<path d="M217.9,981.5 L220.3,979.1 L222.70000000000002,981.5 L220.3,983.9 Z" fill="#41b6e6"/>
<path d="M238.7,979.5 L241.1,977.1 L243.5,979.5 L241.1,981.9 Z" fill="#41b6e6"/>
<path d="M311.6,980 L314,977.6 L316.4,980 L314,982.4 Z" fill="#41b6e6"/>
<path d="M347.6,980.8 L350,978.4 L352.4,980.8 L350,983.1999999999999 Z" fill="#41b6e6"/>
<path d="M399.5,936.1 L401.9,933.7 L404.29999999999995,936.1 L401.9,938.5 Z" fill="#41b6e6"/>
<path d="M432.0,980.6 L434.4,978.2 L436.79999999999995,980.6 L434.4,983.0 Z" fill="#41b6e6"/>
<path d="M463.20000000000005,932.4 L465.6,930.0 L468.0,932.4 L465.6,934.8 Z" fill="#41b6e6"/>
<path d="M471.0,881.5 L473.4,879.1 L475.79999999999995,881.5 L473.4,883.9 Z" fill="#41b6e6"/>
<path d="M487.1,903.7 L489.5,901.3000000000001 L491.9,903.7 L489.5,906.1 Z" fill="#41b6e6"/>
<path d="M511.4,902 L513.8,899.6 L516.1999999999999,902 L513.8,904.4 Z" fill="#41b6e6"/>
</g>
<path d="M49.6,1014.1 H55.4 M69.5,1014.1 H73.7" stroke="#111" stroke-width="1.8" fill="none"/>
<circle cx="61.8" cy="1014.1" r="2.8" fill="#111"/>
<text x="76" y="1016.8" font-size="12.8" fill="#404040">CTRLs mean</text>
<path d="M159.5,1014 H181.3" stroke="#41b6e6" stroke-width="1.25" fill="none"/>
<path d="M168.2,1014 L170.4,1011.8 L172.6,1014 L170.4,1016.2 Z" fill="#41b6e6"/>
<text x="186.1" y="1016.8" font-size="12.7" fill="#404040">SRS-ICR1</text>
<text x="403.1" y="1016.6" font-size="12.9" fill="#505050" textLength="263.5" lengthAdjust="spacingAndGlyphs">**** P&#8804;0.0001; *** P&#8804;0.001; ** P&#8804;0.01; * P&#8804;0.05</text>
</svg>
</body></html>
